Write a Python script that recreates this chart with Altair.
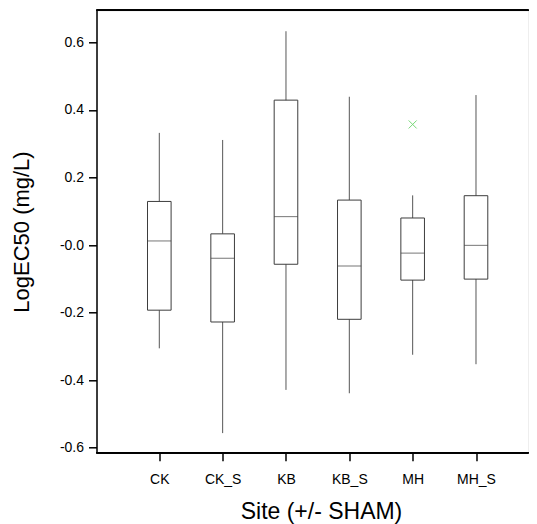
import altair as alt
import pandas as pd

sites = ["CK", "CK_S", "KB", "KB_S", "MH", "MH_S"]
whisker_low = [-0.306, -0.557, -0.429, -0.439, -0.325, -0.353]
q1 = [-0.193, -0.228, -0.057, -0.220, -0.104, -0.101]
median = [0.012, -0.039, 0.084, -0.062, -0.024, -0.001]
q3 = [0.129, 0.033, 0.429, 0.133, 0.080, 0.146]
whisker_high = [0.332, 0.311, 0.633, 0.439, 0.147, 0.444]
outlier_sites = ["MH"]
outlier_values = [0.357]
y_ticks = [-0.6, -0.4, -0.2, 0.0, 0.2, 0.4, 0.6]

df = pd.DataFrame({"site": sites, "lo": whisker_low, "q1": q1, "med": median,
                   "q3": q3, "hi": whisker_high})
out = pd.DataFrame({"site": outlier_sites, "v": outlier_values})

W, H = 432, 442.4
FONT = "Liberation Sans"

xscale = alt.Scale(type="point", domain=sites, range=[62.8, 379.5], padding=0)
yscale = alt.Scale(domain=[-0.615, 0.695], nice=False, zero=False)

xax = alt.Axis(title="Site (+/- SHAM)", domain=False, grid=False, tickSize=8,
               tickColor="black", tickWidth=1.5, labelPadding=12, labelAngle=0,
               labelFontSize=14, labelFont=FONT, labelColor="black",
               titleFont=FONT, titleFontSize=23, titleFontWeight="normal",
               titleColor="black", titleBaseline="alphabetic", titleY=66,
               titleX=224.5, titleAlign="center")
yax = alt.Axis(title="LogEC50 (mg/L)", values=y_ticks, grid=False, tickSize=8,
               domainColor="black", domainWidth=1.5, tickColor="black", tickWidth=1.5,
               labelPadding=5, labelFontSize=14, labelFont=FONT, labelColor="black",
               labelExpr="abs(datum.value) < 1e-9 ? '-0.0' : (datum.value < 0 ? '-' : '') + format(abs(datum.value), '.1f')",
               titleFont=FONT, titleFontSize=22, titleFontWeight="normal",
               titleColor="black", titleBaseline="alphabetic", titleX=-68.5)

base = alt.Chart(df)

whisk = base.mark_rule(color="#555555", strokeWidth=1).encode(
    x=alt.X("site:N", scale=xscale, axis=xax),
    y=alt.Y("lo:Q", scale=yscale, axis=yax),
    y2="hi:Q",
)
box = base.mark_bar(fill="white", stroke="#3c3c3c", strokeWidth=1, size=23.6).encode(
    x=alt.X("site:N", scale=xscale),
    y=alt.Y("q1:Q", scale=yscale),
    y2="q3:Q",
)
med = base.mark_tick(color="#3c3c3c", thickness=1, size=23.6).encode(
    x=alt.X("site:N", scale=xscale),
    y=alt.Y("med:Q", scale=yscale),
)
pts = alt.Chart(out).mark_point(shape="M-1,-1L1,1M-1,1L1,-1", filled=False,
                                 color="#77d877", strokeWidth=1, size=64, opacity=1).encode(
    x=alt.X("site:N", scale=xscale),
    y=alt.Y("v:Q", scale=yscale),
)
top = alt.Chart(df).mark_rule(color="black", strokeWidth=1.5).encode(
    x=alt.value(0), x2=alt.value(W), y=alt.value(0))
bottom = alt.Chart(df).mark_rule(color="black", strokeWidth=1.5).encode(
    x=alt.value(0), x2=alt.value(W), y=alt.value(H))

chart = alt.layer(whisk, box, med, pts, top, bottom).properties(
    width=W, height=H,
    autosize=alt.AutoSizeParams(type="none"),
    padding={"left": 88.5, "top": 2.3, "right": 0, "bottom": 71},
).configure_view(stroke=None).configure(background="white")

chart.save("out.html", embed_options={"renderer": "svg", "actions": False})
